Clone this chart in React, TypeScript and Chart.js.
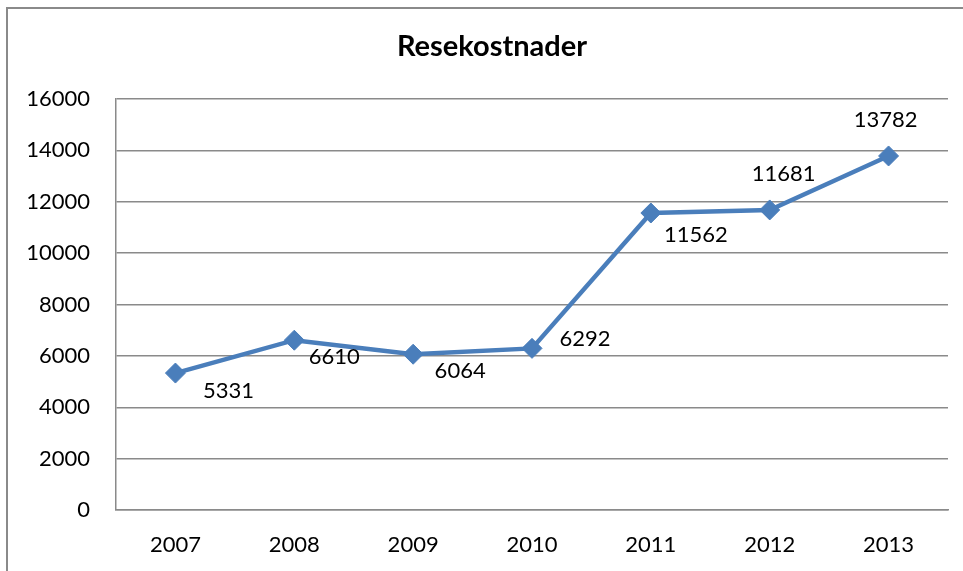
import { useEffect, useRef } from "react";
import { Chart, registerables } from "chart.js";

Chart.register(...registerables);

const chartTitle = "Resekostnader";
const categories = ["2007", "2008", "2009", "2010", "2011", "2012", "2013"];
const costs = [5331, 6610, 6064, 6292, 11562, 11681, 13782];
const yMin = 0;
const yMax = 16000;
const yStep = 2000;

// label offsets relative to each point (style only)
const labelOffsets: [number, number][] = [
  [53, 18],
  [40, 17],
  [47, 17],
  [53, -9],
  [45, 22],
  [14, -36],
  [-3, -36],
];

const FONT = "Lato, 'Open Sans', sans-serif";
const LINE_COLOR = "#4A7EBB";
const GRID_COLOR = "#8a8a8a";
const TEXT_SIZE = 22;

const decorPlugin = {
  id: "decor",
  beforeDraw(chart: any) {
    const ctx = chart.ctx;
    ctx.save();
    ctx.fillStyle = "#ffffff";
    ctx.fillRect(0, 0, chart.width, chart.height);
    ctx.strokeStyle = GRID_COLOR;
    ctx.lineWidth = 2;
    ctx.beginPath();
    ctx.moveTo(7, chart.height);
    ctx.lineTo(7, 8);
    ctx.lineTo(chart.width, 8);
    ctx.stroke();
    ctx.fillStyle = "#000000";
    ctx.font = `bold 29px ${FONT}`;
    ctx.textAlign = "center";
    ctx.textBaseline = "middle";
    ctx.fillText(chartTitle, 492, 47);
    ctx.restore();
  },
  afterDatasetsDraw(chart: any) {
    const ctx = chart.ctx;
    const meta = chart.getDatasetMeta(0);
    ctx.save();
    ctx.fillStyle = "#000000";
    ctx.font = `${TEXT_SIZE}px ${FONT}`;
    ctx.textAlign = "center";
    ctx.textBaseline = "middle";
    meta.data.forEach((pt: any, i: number) => {
      const [dx, dy] = labelOffsets[i] || [0, -20];
      ctx.fillText(String(costs[i]), pt.x + dx, pt.y + dy);
    });
    ctx.restore();
  },
};

export default function App() {
  const canvasRef = useRef<HTMLCanvasElement | null>(null);

  useEffect(() => {
    if (!canvasRef.current) return;
    Chart.defaults.font.family = FONT;
    const chart = new Chart(canvasRef.current, {
      type: "line",
      data: {
        labels: categories,
        datasets: [
          {
            data: costs,
            borderColor: LINE_COLOR,
            backgroundColor: LINE_COLOR,
            borderWidth: 4.5,
            pointStyle: "rectRot",
            pointRadius: 10,
            pointBorderWidth: 1,
            pointBackgroundColor: LINE_COLOR,
            pointBorderColor: LINE_COLOR,
            tension: 0,
            fill: false,
          },
        ],
      },
      options: {
        responsive: false,
        animation: false,
        devicePixelRatio: 1,
        layout: { padding: { left: 0, right: 15, top: 99, bottom: 0 } },
        plugins: {
          legend: { display: false },
          title: { display: false },
          tooltip: { enabled: false },
        },
        scales: {
          x: {
            offset: true,
            grid: { display: false, drawTicks: false },
            border: { display: true, color: GRID_COLOR, width: 1.5 },
            ticks: { color: "#000", font: { size: TEXT_SIZE }, padding: 22 },
            afterFit: (scale: any) => {
              scale.height = 61;
            },
          },
          y: {
            min: yMin,
            max: yMax,
            grid: { color: GRID_COLOR, lineWidth: 1.5, drawTicks: false },
            border: { display: true, color: GRID_COLOR, width: 1.5 },
            ticks: {
              stepSize: yStep,
              color: "#000",
              font: { size: TEXT_SIZE },
              padding: 26,
              callback: (v: any) => String(v),
            },
            afterFit: (scale: any) => {
              scale.width = 116;
            },
          },
        },
      },
      plugins: [decorPlugin],
    });
    return () => chart.destroy();
  }, []);

  return (
    <div style={{ position: "absolute", left: 0, top: 0, width: 963, height: 571 }}>
      <canvas ref={canvasRef} width={963} height={571} style={{ width: 963, height: 571 }} />
    </div>
  );
}
